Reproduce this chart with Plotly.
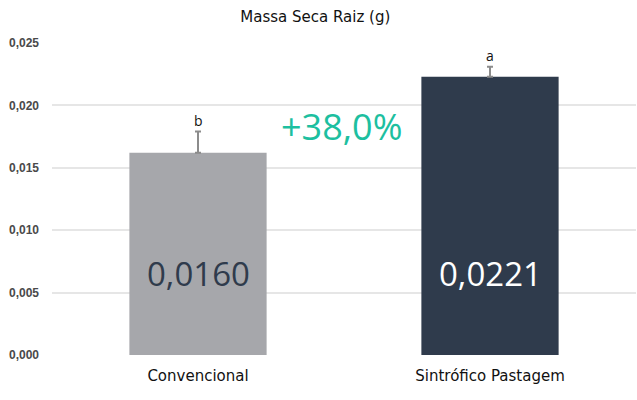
import plotly.graph_objects as go

categories = ["Convencional", "Sintrófico Pastagem"]
values = [0.0162, 0.0223]
errors = [0.0017, 0.0008]
value_labels = ["0,0160", "0,0221"]
letters = ["b", "a"]
bar_colors = ["#A6A7AB", "#2F3B4C"]
label_colors = ["#2F3B4C", "#FFFFFF"]
diff_label = "+38,0%"
title = "Massa Seca Raiz (g)"

fig = go.Figure()
fig.add_trace(go.Bar(
    x=categories, y=values,
    marker=dict(color=bar_colors, line=dict(width=0)),
    width=0.47,
    error_y=dict(type="data", symmetric=False, array=errors,
                 arrayminus=[0 for _ in errors],
                 color="#8C8C8C", thickness=2, width=3),
    hoverinfo="skip",
))

annotations = []
for i, c in enumerate(categories):
    annotations.append(dict(
        x=i, y=0.00657, xref="x", yref="y", text=value_labels[i],
        showarrow=False, font=dict(family="Open Sans", size=33, color=label_colors[i]),
        xanchor="center", yanchor="middle"))
    annotations.append(dict(
        x=i, y=values[i] + errors[i], xref="x", yref="y", text=letters[i],
        showarrow=False, font=dict(family="Open Sans", size=14, color="#111111"),
        xanchor="center", yanchor="bottom", yshift=0))
annotations.append(dict(
    x=0.49, y=0.0183, xref="x", yref="y", text=diff_label, showarrow=False,
    font=dict(family="Open Sans", size=36, color="#1DBFA0"),
    xanchor="center", yanchor="middle"))

fig.update_layout(
    width=637, height=400,
    margin=dict(l=52, r=1, t=43, b=45),
    paper_bgcolor="white", plot_bgcolor="white",
    showlegend=False,
    title=dict(text=title, x=0.495, xanchor="center", y=0.957, yanchor="middle",
               font=dict(family="DejaVu Sans", size=15, color="#111111")),
    xaxis=dict(showgrid=False, showline=False, zeroline=False, ticks="",
               tickfont=dict(family="DejaVu Sans", size=15, color="#111111"),
               ticklabelstandoff=10, fixedrange=True),
    yaxis=dict(range=[0, 0.025], dtick=0.005, tickformat=".3f",
               showgrid=True, gridcolor="#E6E6E6", gridwidth=2,
               zeroline=False, showline=False, ticks="",
               tickfont=dict(family="Arial", size=12, color="#4A4A4A", weight="bold"),
               ticklabelstandoff=12, fixedrange=True),
    separators=",.",
    annotations=annotations,
)

fig.write_html("out.html", config={"displayModeBar": False},
               post_script="document.body.style.margin='0';")
